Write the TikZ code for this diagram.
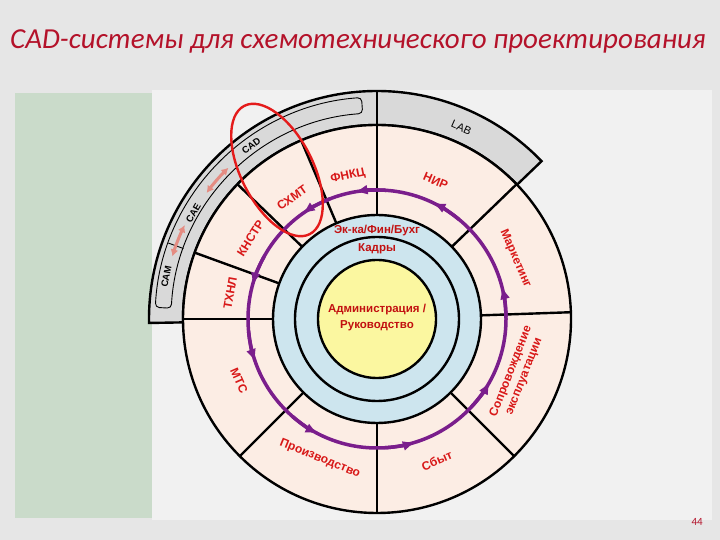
\documentclass[tikz,border=0pt]{standalone}
\usepackage{fontspec}
\setmainfont{Liberation Sans}
\newfontfamily\titlefont{Carlito}
\usetikzlibrary{arrows.meta}
\definecolor{wheelpink}{HTML}{FCEDE4}
\definecolor{ringblue}{HTML}{CDE5EE}
\definecolor{coreyellow}{HTML}{FBF7A0}
\definecolor{bandgray}{HTML}{D9D9D9}
\definecolor{cyclepurple}{HTML}{7A1E8C}
\definecolor{labelred}{HTML}{D81818}
\definecolor{corered}{HTML}{C21010}
\definecolor{titlered}{HTML}{B4122A}
\definecolor{markred}{HTML}{E41B1B}
\definecolor{linkpink}{HTML}{E58C82}
\definecolor{sheetgreen}{HTML}{CADBCA}
\definecolor{sheetgray}{HTML}{E6E6E6}
\definecolor{sheetlight}{HTML}{F1F1F1}
\tikzset{
  wheelline/.style={draw=black,line width=2.4pt},
  barline/.style={draw=black,line width=0.9pt},
  cycleline/.style={draw=cyclepurple,line width=3.5pt},
  cyclehead/.style={cycleline,-{Latex[length=13pt,width=10pt]}},
  linkarrow/.style={draw=linkpink,line width=3pt,{Latex[length=7pt,width=8pt]}-{Latex[length=7pt,width=8pt]}},
  seglabel/.style={text=labelred,font=\fontsize{12}{14}\selectfont\bfseries,inner sep=0pt,align=center},
  corelabel/.style={text=corered,font=\fontsize{11.5}{16}\selectfont\bfseries,inner sep=0pt,align=center},
  bandlabel/.style={text=black,font=\fontsize{9.5}{10}\selectfont\bfseries,inner sep=0pt}
}
\begin{document}
\begin{tikzpicture}[x=1pt,y=1pt]
\useasboundingbox (0,0) rectangle (720,540);
\fill[sheetgray] (0,0) rectangle (720,540);
\fill[sheetlight] (152,20) rectangle (712,450);
\fill[sheetgreen] (15,22) rectangle (152,447);
\coordinate (O) at (377,221);

\begin{scope}[shift={(O)}]
\filldraw[fill=bandgray,wheelline] (181:228) arc[start angle=181,end angle=43.8,radius=228]
  -- (43.8:194) arc[start angle=43.8,end angle=181,radius=194] -- cycle;
\draw[barline,rounded corners=4pt] (177:222) arc[start angle=177,end angle=94,radius=222]
  -- (94:206) arc[start angle=94,end angle=177,radius=206] -- cycle;
\draw[barline] (160:206) -- (160:222);
\filldraw[fill=wheelpink,wheelline] (0,0) circle[radius=194];
\filldraw[fill=ringblue,wheelline] (0,0) circle[radius=104];
\draw[wheelline] (0,0) circle[radius=82];
\filldraw[fill=coreyellow,wheelline] (0,0) circle[radius=59];
\foreach \a in {2,44,113,136,160,180,225,270,315}
  \draw[wheelline] (\a:104) -- (\a:194);
\draw[wheelline] (90:104) -- (90:228);

\draw[cycleline] (0,0) circle[radius=129];
\foreach \a [evaluate=\a as \b using \a-14] in {14.7,64.5,100,125.5,165,199.5,243,287.5,331}
  \draw[cyclehead] (\b:129) arc[start angle=\b,end angle=\a,radius=129];

\draw[linkarrow] (163:214) arc[start angle=163,end angle=154,radius=214];
\draw[linkarrow] (143.5:212) arc[start angle=143.5,end angle=134.5,radius=212];
\node[bandlabel,rotate=78.6] (cam) at (168.6:215) {CAM};
\node[bandlabel,rotate=60] (cae) at (150:212) {CAE};
\node[bandlabel,rotate=36] (cad) at (126:214) {CAD};
\node[bandlabel,font=\fontsize{11}{11}\selectfont,rotate=-24] (lab) at (66.2:209) {LAB};

\node[seglabel,rotate=11.5] (fnkc) at (101.5:146) {ФНКЦ};
\node[seglabel,rotate=35] (shmt) at (125:148) {СХМТ};
\node[seglabel,rotate=57.5] (knstr) at (147.5:150) {КНСТР};
\node[seglabel,rotate=80] (thnl) at (170:149) {ТХНЛ};
\node[seglabel,rotate=-66] (mts) at (204:151) {МТС};
\node[seglabel,rotate=-22.2] (proizv) at (247.8:151) {Производство};
\node[seglabel,rotate=22.9] (sbyt) at (292.9:154) {Сбыт};
\node[seglabel,rotate=68.6] (soprov) at (338.6:151) {Сопровождение\\эксплуатации};
\node[seglabel,rotate=-66.5] (market) at (23.5:151) {Маркетинг};
\node[seglabel,rotate=-23] (nir) at (67:150) {НИР};

\node[corelabel] (econ) at (0,88) {Эк-ка/Фин/Бухг};
\node[corelabel] (kadry) at (0,70) {Кадры};
\node[corelabel] (admin) at (0,1) {Администрация /\\Руководство};

\coordinate (hl) at (-100,149);
\draw[markred,line width=2.4pt] (hl) ellipse[x radius=72,y radius=36,rotate=-63];
\end{scope}

\node[anchor=base west,inner sep=0pt,text=titlered,font=\titlefont\itshape\fontsize{29}{32}\selectfont] (title) at (10,491) {CAD-системы для схемотехнического проектирования};
\node[anchor=base east,inner sep=0pt,text=titlered,font=\titlefont\fontsize{11}{12}\selectfont] (page) at (703,14) {44};
\end{tikzpicture}
\end{document}
